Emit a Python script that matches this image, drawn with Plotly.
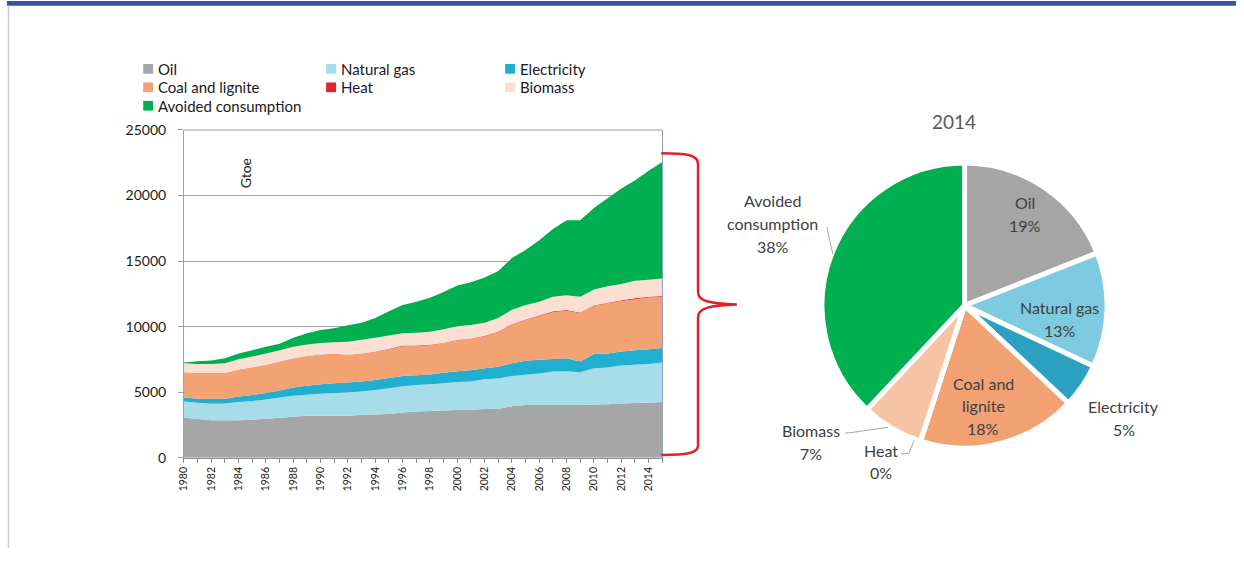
import plotly.graph_objects as go

W, H = 1244, 564

# ---- data (Gtoe, stacked components) ----
years = list(range(1980, 2016))
oil = [3080, 2960, 2860, 2860, 2860, 2910, 2980, 3060, 3130, 3200,
       3200, 3200, 3200, 3280, 3300, 3350, 3450, 3530, 3570, 3600,
       3650, 3670, 3720, 3740, 3940, 4020, 4020, 4020, 4020, 4020,
       4070, 4090, 4140, 4170, 4190, 4260]
natural_gas = [1210, 1230, 1260, 1280, 1400, 1430, 1460, 1530, 1600, 1610,
               1680, 1750, 1800, 1770, 1880, 1950, 2000, 2020, 2030, 2090,
               2140, 2150, 2270, 2310, 2300, 2320, 2410, 2560, 2590, 2510,
               2760, 2790, 2890, 2930, 2960, 3010]
electricity = [300, 320, 390, 370, 420, 440, 510, 540, 640, 690,
               720, 740, 740, 770, 760, 790, 790, 740, 760, 790,
               820, 860, 840, 890, 980, 1060, 1040, 960, 980, 820,
               1080, 1080, 1080, 1110, 1130, 1110]
coal_lignite = [1940, 1970, 1950, 1950, 2050, 2120, 2150, 2220, 2220, 2260,
                2260, 2220, 2100, 2120, 2150, 2190, 2260, 2210, 2220, 2270,
                2340, 2390, 2440, 2660, 2960, 3100, 3330, 3580, 3630, 3690,
                3680, 3820, 3850, 3890, 3950, 3900]
heat = [0, 0, 0, 0, 0, 0, 0, 0, 0, 0,
        10, 20, 20, 20, 20, 40, 60, 60, 50, 30,
        30, 30, 30, 30, 30, 40, 50, 60, 50, 40,
        40, 40, 60, 60, 60, 60]
biomass = [690, 670, 690, 760, 790, 820, 860, 860, 870, 890,
           880, 890, 990, 1040, 1040, 1000, 930, 980, 980, 1030,
           1050, 1030, 1000, 1040, 1080, 1120, 1050, 1100, 1130, 1200,
           1210, 1270, 1240, 1350, 1290, 1340]
avoided = [50, 220, 270, 370, 440, 490, 500, 490, 690, 840,
           990, 1060, 1250, 1300, 1520, 1850, 2170, 2370, 2590, 2840,
           3110, 3250, 3450, 3580, 3940, 4190, 4690, 5170, 5720, 5840,
           6210, 6700, 7270, 7640, 8310, 8870]

series_names = ["Oil", "Natural gas", "Electricity", "Coal and lignite",
                "Heat", "Biomass", "Avoided consumption"]
series_values = [oil, natural_gas, electricity, coal_lignite, heat, biomass, avoided]
area_colors = ["#A6A6A6", "#A6DDE9", "#20AED1", "#F2A273", "#E3232B", "#FADFD2", "#00AF50"]

x_tick_years = years[:-1:2]
y_ticks = [0, 5000, 10000, 15000, 20000, 25000]

pie_year = "2014"
pie_shares = [19, 13, 5, 18, 0, 7, 38]
pie_colors = ["#A5A5A5", "#7ECBE1", "#2DA1C1", "#F2A172", "#E3232B", "#F6C3A3", "#00B050"]

FONT = "Lato, 'Open Sans', sans-serif"


def fx(px):
    return px / W


def fy(py):
    return 1 - py / H


fig = go.Figure()

# ---- stacked area chart ----
for name, vals, col in zip(series_names, series_values, area_colors):
    fig.add_trace(go.Scatter(
        x=years, y=vals, name=name, stackgroup="energy", mode="none",
        fillcolor=col, showlegend=False,
        hovertemplate=name + " %{x}: %{y}<extra></extra>"))

# ---- pie for the final year ----
fig.add_trace(go.Pie(
    values=pie_shares, labels=series_names, sort=False,
    direction="clockwise", rotation=0, textinfo="none",
    marker=dict(colors=pie_colors, line=dict(color="white", width=5)),
    domain=dict(x=[fx(824), fx(1118)], y=[fy(461), fy(167)]),
    showlegend=False, hoverinfo="label+percent"))

axis_blue = "#8FA0C4"
axis_gray = "#8C8C8C"

# size comes from the container div (see write_html below)
fig.update_layout(
    autosize=True,
    margin=dict(l=0, r=0, t=0, b=0),
    paper_bgcolor="white", plot_bgcolor="white",
    font=dict(family=FONT, color="#1A1A1A"),
    xaxis=dict(
        domain=[fx(186), fx(667)], range=[years[0], years[-1]],
        tickmode="array", tickvals=x_tick_years,
        ticktext=[str(y) for y in x_tick_years],
        tickangle=-90, ticks="outside", ticklen=4, tickcolor=axis_gray,
        minor=dict(tick0=years[0], dtick=1, ticks="outside", ticklen=4,
                   tickcolor=axis_gray, showgrid=False),
        showline=True, linecolor=axis_gray, showgrid=False, zeroline=False,
        tickfont=dict(size=10.5, family=FONT, color="#1A1A1A"),
        fixedrange=True),
    yaxis=dict(
        domain=[fy(471), fy(133)], range=[0, 25000],
        tickmode="array", tickvals=y_ticks,
        ticktext=[str(v) for v in y_ticks],
        ticks="outside", ticklen=5, tickcolor=axis_blue,
        showline=True, linecolor=axis_blue, mirror=True,
        showgrid=True, gridcolor="#A6A6A6", gridwidth=1, zeroline=False,
        tickfont=dict(size=14, family=FONT, color="#1A1A1A"),
        ticklabelstandoff=9, fixedrange=True),
)

shapes = []
annotations = []

# frame decoration: top bar and left rule
shapes.append(dict(type="rect", xref="paper", yref="paper",
                   x0=fx(8), x1=1, y0=fy(5), y1=1,
                   fillcolor="#3953A4", line=dict(width=0)))
shapes.append(dict(type="line", xref="paper", yref="paper",
                   x0=fx(9.5), x1=fx(9.5), y0=0, y1=fy(5),
                   line=dict(color="#C8CCE8", width=1.5)))

# top border of the plot area
shapes.append(dict(type="line", xref="paper", yref="paper",
                   x0=fx(186), x1=fx(667), y0=fy(133), y1=fy(133),
                   line=dict(color=axis_blue, width=1)))

# unit label
annotations.append(dict(text="Gtoe", xref="paper", yref="paper",
                        x=fx(237), y=fy(160), showarrow=False, textangle=-90,
                        font=dict(size=14, family=FONT, color="#1A1A1A")))

# legend block (3 columns)
leg_cols = [145, 329, 509]
leg_rows = [70, 89, 108]
for i, (name, col) in enumerate(zip(series_names, area_colors)):
    cx = leg_cols[i % 3]
    cy = leg_rows[i // 3]
    shapes.append(dict(type="rect", xref="paper", yref="paper",
                       x0=fx(cx), x1=fx(cx + 10), y0=fy(cy + 5), y1=fy(cy - 5),
                       fillcolor=col, line=dict(width=0)))
    annotations.append(dict(text=name, xref="paper", yref="paper",
                            x=fx(cx + 13), y=fy(cy), xanchor="left", yanchor="middle",
                            showarrow=False,
                            font=dict(size=15, family=FONT, color="#1A1A1A")))

# red brace linking the final-year stack to the pie
pts = [(666, 157), (690, 157), (703, 158), (703, 168),
       (703, 300), (703, 310), (716, 312), (742, 313),
       (716, 314), (703, 316), (703, 326),
       (703, 458), (703, 467), (690, 468), (666, 468)]
P = [(fx(x), fy(y)) for x, y in pts]
path = (f"M {P[0][0]},{P[0][1]} C {P[1][0]},{P[1][1]} {P[2][0]},{P[2][1]} {P[3][0]},{P[3][1]} "
        f"L {P[4][0]},{P[4][1]} C {P[5][0]},{P[5][1]} {P[6][0]},{P[6][1]} {P[7][0]},{P[7][1]} "
        f"C {P[8][0]},{P[8][1]} {P[9][0]},{P[9][1]} {P[10][0]},{P[10][1]} "
        f"L {P[11][0]},{P[11][1]} C {P[12][0]},{P[12][1]} {P[13][0]},{P[13][1]} {P[14][0]},{P[14][1]}")
shapes.append(dict(type="path", xref="paper", yref="paper", path=path,
                   line=dict(color="#E0202A", width=2.5)))

# pie title
annotations.append(dict(text=pie_year, xref="paper", yref="paper",
                        x=fx(985), y=fy(110), showarrow=False,
                        font=dict(size=19, family=FONT, color="#595959")))

# pie slice labels: (name lines, x, first-line y)
label_pos = {
    "Oil": (["Oil"], 1032, 208),
    "Natural gas": (["Natural gas"], 1067, 316),
    "Electricity": (["Electricity"], 1131, 418),
    "Coal and lignite": (["Coal and", "lignite"], 990, 394),
    "Heat": (["Heat"], 887, 463),
    "Biomass": (["Biomass"], 817, 443),
    "Avoided consumption": (["Avoided", "consumption"], 778, 206),
}
line_gap = 23.5
for name, share in zip(series_names, pie_shares):
    lines, lx, ly = label_pos[name]
    for k, t in enumerate(lines + [f"{share}%"]):
        annotations.append(dict(text=t, xref="paper", yref="paper",
                                x=fx(lx), y=fy(ly + k * line_gap),
                                xanchor="center", yanchor="middle", showarrow=False,
                                font=dict(size=16, family=FONT, color="#404040")))

# leader lines for labels placed outside the pie
leaders = [
    [(832.5, 233), (838.5, 261)],
    [(851, 445.5), (857, 445), (894, 439.5)],
    [(907, 467), (915, 466.5), (920.5, 453)],
]
for seg in leaders:
    d = "M " + " L ".join(f"{fx(x)},{fy(y)}" for x, y in seg)
    shapes.append(dict(type="path", xref="paper", yref="paper", path=d,
                       line=dict(color="#A6A6A6", width=1)))

fig.update_layout(shapes=shapes, annotations=annotations)

# the chart div fills the whole window, cancelling the page's default body margin
fig.write_html("out.html",
               default_width=f"{W}px; margin:-8px",
               default_height=f"{H}px")
